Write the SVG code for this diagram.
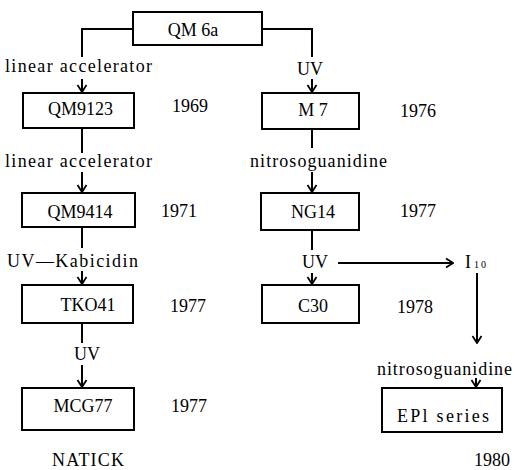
<svg xmlns="http://www.w3.org/2000/svg" width="515" height="470" viewBox="0 0 515 470">
<style>
.box{fill:#fff;stroke:#000;stroke-width:2}
.ln{fill:none;stroke:#000;stroke-width:2}
.ar{fill:none;stroke:#000;stroke-width:2;marker-end:url(#ah)}
text{font-family:"Liberation Serif","Times New Roman",serif;font-size:18px;fill:#000}
.c{text-anchor:middle}
</style>
<defs>
<marker id="ah" markerUnits="userSpaceOnUse" viewBox="-9 -6 10 12" refX="0" refY="0" markerWidth="10" markerHeight="12" orient="auto">
<path d="M-7,-4.5 L0,0 L-7,4.5" fill="none" stroke="#000" stroke-width="1.8"/>
</marker>
</defs>
<rect width="515" height="470" fill="#fff"/>
<g id="connectors">
<path class="ln" d="M133,29 H82 V57"/>
<path class="ar" d="M82,79 V92"/>
<path class="ln" d="M262,29 H312 V57"/>
<path class="ar" d="M312,79 V92"/>
<path class="ln" d="M82,128 V153"/>
<path class="ar" d="M82,172 V192"/>
<path class="ln" d="M82,227 V248"/>
<path class="ar" d="M82,271 V284"/>
<path class="ln" d="M82,323 V343"/>
<path class="ar" d="M82,365 V387"/>
<path class="ln" d="M312,129 V148"/>
<path class="ar" d="M312,172 V192"/>
<path class="ln" d="M312,230 V250"/>
<path class="ar" d="M312,273 V284"/>
<path class="ar" d="M338,263 H453"/>
<path class="ar" d="M477,273 V343"/>
<path class="ar" d="M476,378 V387"/>
<text x="5" y="72" textLength="147" lengthAdjust="spacing">linear accelerator</text>
<text x="297" y="75" textLength="26" lengthAdjust="spacing">UV</text>
<text x="5" y="167" textLength="147" lengthAdjust="spacing">linear accelerator</text>
<text x="250" y="167" textLength="137" lengthAdjust="spacing">nitrosoguanidine</text>
<text x="7" y="267" textLength="131" lengthAdjust="spacing">UV—Kabicidin</text>
<text x="302" y="268" textLength="26" lengthAdjust="spacing">UV</text>
<text x="74" y="360" textLength="26" lengthAdjust="spacing">UV</text>
<text x="377" y="375" textLength="135" lengthAdjust="spacing">nitrosoguanidine</text>
</g>
<g id="qm6a"><rect class="box" x="133" y="12" width="129" height="33"/><text x="193" y="36" class="c">QM 6a</text></g>
<g id="qm9123"><rect class="box" x="23" y="93" width="111" height="35"/><text x="80.5" y="115" class="c">QM9123</text><text x="172" y="112">1969</text></g>
<g id="qm9414"><rect class="box" x="22" y="193" width="113" height="34"/><text x="80" y="218" class="c">QM9414</text><text x="161" y="217">1971</text></g>
<g id="tko41"><rect class="box" x="22" y="285" width="111" height="38"/><text x="88" y="311" class="c">TKO41</text><text x="170" y="312">1977</text></g>
<g id="mcg77"><rect class="box" x="22" y="388" width="112" height="42"/><text x="83" y="412" class="c">MCG77</text><text x="171" y="412">1977</text></g>
<g id="natick"><text x="52" y="466" textLength="72" lengthAdjust="spacing">NATICK</text></g>
<g id="m7"><rect class="box" x="262" y="93" width="97" height="36"/><text x="313" y="116" class="c">M 7</text><text x="400" y="117">1976</text></g>
<g id="ng14"><rect class="box" x="261" y="193" width="98" height="37"/><text x="313" y="218" class="c">NG14</text><text x="400" y="217">1977</text></g>
<g id="c30"><rect class="box" x="262" y="285" width="97" height="38"/><text x="313" y="312" class="c">C30</text><text x="397" y="313">1978</text></g>
<g id="i10"><text x="465" y="268">I<tspan font-size="10" dx="3" letter-spacing="2">10</tspan></text></g>
<g id="epi"><rect class="box" x="382" y="388" width="120" height="44"/><text x="397" y="422" textLength="92" lengthAdjust="spacing">EPl series</text><text x="474" y="466" textLength="36" lengthAdjust="spacingAndGlyphs">1980</text></g>
</svg>
